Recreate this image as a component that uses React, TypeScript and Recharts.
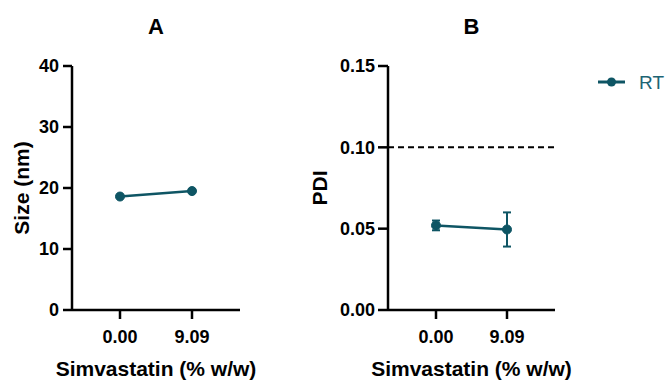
import { LineChart, Line, XAxis, YAxis, ReferenceLine, ErrorBar, Legend, Label } from 'recharts';

// values
const CATEGORIES = ['0.00', '9.09'];
const SIZE_NM = [18.6, 19.5];
const PDI = [0.052, 0.0495];
const PDI_ERR = [0.003, 0.0105];
const SIZE_TICKS = [0, 10, 20, 30, 40];
const PDI_TICKS = [0, 0.05, 0.1, 0.15];
const PDI_LIMIT = 0.1;
const SERIES_NAME = 'RT';
const PANEL_TITLES = ['A', 'B'];

const TEAL = '#0e5564';
const INK = '#000000';
const FONT = '"Liberation Sans", Arial, Helvetica, sans-serif';

const sizeData = CATEGORIES.map((x, i) => ({ x, size: SIZE_NM[i] }));
const pdiData = CATEGORIES.map((x, i) => ({ x, pdi: PDI[i], err: PDI_ERR[i] }));

const tickStyle = { fill: INK, fontSize: 18, fontWeight: 700, fontFamily: FONT };
const axisStroke = { stroke: INK, strokeWidth: 2.5 };
const labelStyle = { fill: INK, fontSize: 21, fontWeight: 700, fontFamily: FONT };
const dot = { r: 4.5, fill: TEAL, stroke: TEAL, strokeWidth: 1 };

function LegendContent({ payload }: any) {
  return (
    <div>
      {(payload || []).map((p: any) => (
        <svg key={p.value} width={68} height={26} style={{ display: 'block' }}>
          <line x1={0} y1={12} x2={27} y2={12} stroke={TEAL} strokeWidth={3} />
          <circle cx={13.5} cy={12} r={4.5} fill={TEAL} />
          <text x={41} y={18.5} fill="#1d6474" fontSize={19} fontFamily={FONT}>
            {p.value}
          </text>
        </svg>
      ))}
    </div>
  );
}

export default function App() {
  return (
    <div style={{ position: 'absolute', left: 0, top: 0, width: 666, height: 380, background: '#fff', fontFamily: FONT, overflow: 'hidden' }}>
      <div style={{ position: 'absolute', left: 0, top: 0 }}>
        <LineChart width={300} height={380} data={sizeData} margin={{ top: 66, right: 60, bottom: 30, left: 12 }}>
          <XAxis
            dataKey="x"
            type="category"
            padding={{ left: 48, right: 48 }}
            height={40}
            tickSize={9}
            tickMargin={11}
            axisLine={axisStroke}
            tickLine={axisStroke}
            tick={tickStyle}
          >
            <Label value="Simvastatin (% w/w)" position="bottom" offset={11} {...labelStyle} />
          </XAxis>
          <YAxis
            type="number"
            domain={[0, 40]}
            ticks={SIZE_TICKS}
            interval={0}
            width={60}
            tickSize={9}
            tickMargin={4}
            axisLine={axisStroke}
            tickLine={axisStroke}
            tick={tickStyle}
          >
            <Label value="Size (nm)" position="insideLeft" offset={10} angle={-90} {...labelStyle} style={{ textAnchor: 'middle' }} />
          </YAxis>
          <Line
            type="linear"
            dataKey="size"
            name={SERIES_NAME}
            stroke={TEAL}
            strokeWidth={2.5}
            dot={dot}
            activeDot={false}
            isAnimationActive={false}
          />
        </LineChart>
      </div>
      <div style={{ position: 'absolute', left: 300, top: 0 }}>
        <LineChart width={366} height={380} data={pdiData} margin={{ top: 66, right: 111, bottom: 30, left: 12 }}>
          <XAxis
            dataKey="x"
            type="category"
            padding={{ left: 48, right: 48 }}
            height={40}
            tickSize={9}
            tickMargin={11}
            axisLine={axisStroke}
            tickLine={axisStroke}
            tick={tickStyle}
          >
            <Label value="Simvastatin (% w/w)" position="bottom" offset={11} {...labelStyle} />
          </XAxis>
          <YAxis
            type="number"
            domain={[0, 0.15]}
            ticks={PDI_TICKS}
            interval={0}
            width={76}
            tickSize={10}
            tickMargin={3}
            tickFormatter={(v: number) => v.toFixed(2)}
            axisLine={axisStroke}
            tickLine={axisStroke}
            tick={tickStyle}
          >
            <Label value="PDI" position="insideLeft" offset={8} angle={-90} {...labelStyle} style={{ textAnchor: 'middle' }} />
          </YAxis>
          <ReferenceLine y={PDI_LIMIT} stroke={INK} strokeWidth={2} strokeDasharray="6 4" />
          <Line
            type="linear"
            dataKey="pdi"
            name={SERIES_NAME}
            stroke={TEAL}
            strokeWidth={2.5}
            dot={dot}
            activeDot={false}
            isAnimationActive={false}
          >
            <ErrorBar dataKey="err" width={4} stroke={TEAL} strokeWidth={2} isAnimationActive={false} />
          </Line>
          <Legend
            layout="vertical"
            align="center"
            verticalAlign="middle"
            content={LegendContent}
            wrapperStyle={{ position: 'absolute', left: 298, top: 70, width: 68 }}
          />
        </LineChart>
      </div>
      <svg width={666} height={380} style={{ position: 'absolute', left: 0, top: 0, pointerEvents: 'none' }}>
        <text x={156} y={34} textAnchor="middle" fill={INK} fontSize={22} fontWeight={700} fontFamily={FONT}>
          {PANEL_TITLES[0]}
        </text>
        <text x={471.5} y={34} textAnchor="middle" fill={INK} fontSize={22} fontWeight={700} fontFamily={FONT}>
          {PANEL_TITLES[1]}
        </text>
      </svg>
    </div>
  );
}
